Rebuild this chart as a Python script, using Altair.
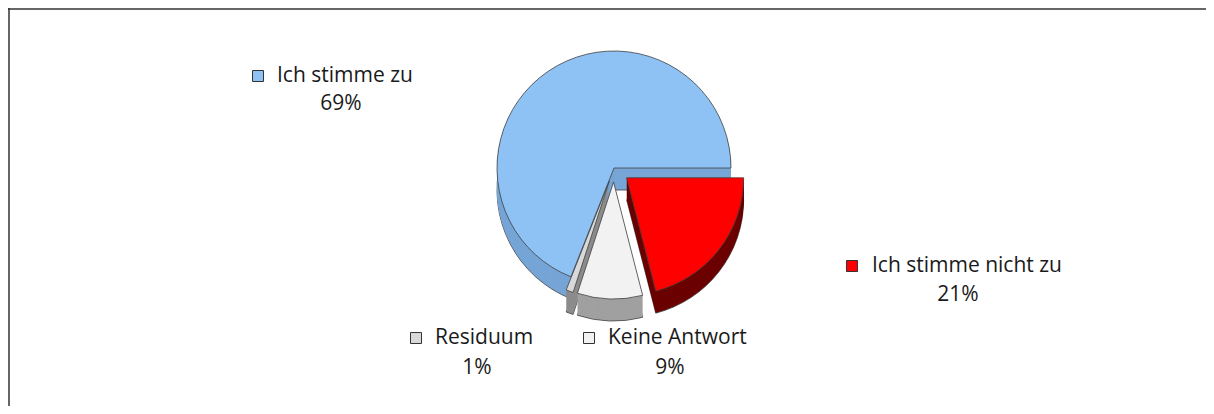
import altair as alt
import pandas as pd

# ---- data ----
categories = ["Ich stimme nicht zu", "Keine Antwort", "Residuum", "Ich stimme zu"]
values = [21, 9, 1, 69]

# ---- styles / layout ----
top_colors = {"Ich stimme nicht zu": "#FF0000", "Keine Antwort": "#F2F2F2",
              "Residuum": "#D9D9D9", "Ich stimme zu": "#8EC2F5"}
side_colors = {"Ich stimme nicht zu": "#6B0000", "Keine Antwort": "#A0A0A0",
               "Residuum": "#8C8C8C", "Ich stimme zu": "#76A5D6"}
explode = {"Ich stimme nicht zu": 16, "Keine Antwort": 14, "Residuum": 14, "Ich stimme zu": 0}
label_layout = {  # square x, name left x, name y, pct center x, pct y
    "Ich stimme zu": (250, 269, 68, 333, 96),
    "Ich stimme nicht zu": (844, 864, 258, 950, 287),
    "Residuum": (408, 427, 330, 469, 360),
    "Keine Antwort": (581, 600, 330, 662, 360),
}

W, H = 1198, 398
CX, CY, R, DEPTH = 606, 160, 117, 22
FONT = "Open Sans"
FS = 21


def mapping_expr(d, default):
    expr = default
    for k, v in d.items():
        val = f"'{v}'" if isinstance(v, str) else str(v)
        expr = f"datum.cat === '{k}' ? {val} : ({expr})"
    return expr


df = pd.DataFrame({"cat": categories, "value": values, "idx": list(range(len(categories)))})

base = (
    alt.Chart(df)
    .transform_window(cum="sum(value)", sort=[alt.SortField("idx")], frame=[None, 0])
    .transform_joinaggregate(total="sum(value)")
    .transform_calculate(ex=mapping_expr(explode, "0"))
    .transform_calculate(t1="PI/2 + 2*PI*datum.cum/datum.total")
    .transform_calculate(t0="PI/2 + 2*PI*(datum.cum - datum.value)/datum.total")
    .transform_calculate(mid="(datum.t0 + datum.t1)/2")
    .transform_calculate(px=f"{CX} + datum.ex*sin(datum.mid)")
    .transform_calculate(py=f"{CY} - datum.ex*cos(datum.mid)")
    .transform_calculate(topcol=mapping_expr(top_colors, "'#888'"))
    .transform_calculate(sidecol=mapping_expr(side_colors, "'#666'"))
)

enc = dict(
    theta=alt.Theta("t0:Q", scale=None),
    theta2="t1:Q",
    x=alt.X("px:Q", scale=None),
    y=alt.Y("py:Q", scale=None),
)

layers = []
for d in range(DEPTH, 0, -1):
    if d == DEPTH:
        m = base.mark_arc(outerRadius=R, yOffset=d, stroke="#404040", strokeWidth=0.8)
    else:
        m = base.mark_arc(outerRadius=R, yOffset=d, strokeWidth=0)
    layers.append(m.encode(color=alt.Color("sidecol:N", scale=None), **enc))

layers.append(
    base.mark_arc(outerRadius=R, stroke="#404040", strokeWidth=0.8)
    .encode(color=alt.Color("topcol:N", scale=None), **enc)
)

# ---- labels ----
lab = pd.DataFrame({
    "name": categories,
    "pct": [f"{v}%" for v in values],
    "sq_x": [label_layout[c][0] for c in categories],
    "name_x": [label_layout[c][1] for c in categories],
    "name_y": [label_layout[c][2] for c in categories],
    "pct_x": [label_layout[c][3] for c in categories],
    "pct_y": [label_layout[c][4] for c in categories],
    "col": [top_colors[c] for c in categories],
})
lab_base = alt.Chart(lab)
squares = lab_base.mark_square(size=121, stroke="#333333", strokeWidth=1, opacity=1, filled=True).encode(
    x=alt.X("sq_x:Q", scale=None), y=alt.Y("name_y:Q", scale=None), color=alt.Color("col:N", scale=None)
)
names = lab_base.mark_text(align="left", baseline="middle", fontSize=FS, font=FONT, color="#1a1a1a").encode(
    x=alt.X("name_x:Q", scale=None), y=alt.Y("name_y:Q", scale=None), text="name:N"
)
pcts = lab_base.mark_text(align="center", baseline="middle", fontSize=FS, font=FONT, color="#1a1a1a").encode(
    x=alt.X("pct_x:Q", scale=None), y=alt.Y("pct_y:Q", scale=None), text="pct:N"
)

# ---- frame (top and left edges) ----
one = pd.DataFrame({"a": [0]})
top_rule = alt.Chart(one).mark_rule(color="#333333", strokeWidth=1.5).encode(
    x=alt.value(0), x2=alt.value(W), y=alt.value(1)
)
left_rule = alt.Chart(one).mark_rule(color="#333333", strokeWidth=1.5).encode(
    x=alt.value(1), y=alt.value(0), y2=alt.value(H)
)

chart = (
    alt.layer(*layers, squares, names, pcts, top_rule, left_rule)
    .properties(width=W, height=H, padding=0, autosize=alt.AutoSizeParams(type="none"))
    .configure_view(stroke=None)
)

chart.save("out.html", embed_options={"renderer": "svg", "actions": False})
